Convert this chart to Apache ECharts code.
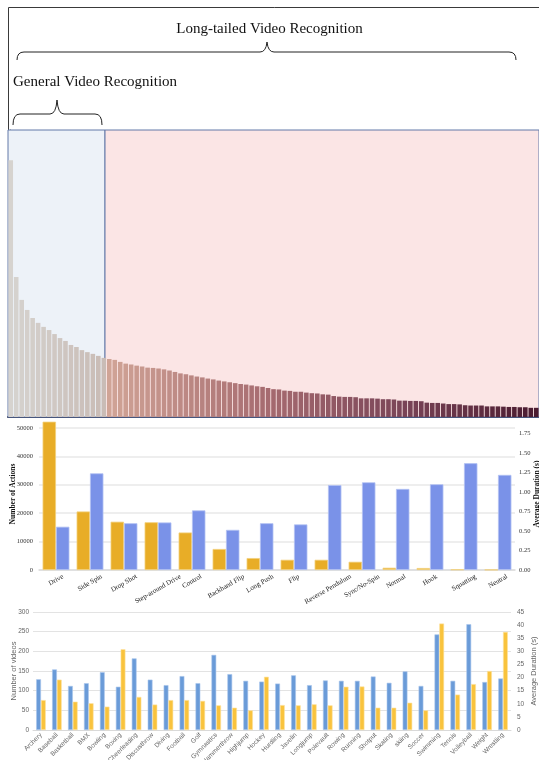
<!DOCTYPE html>
<html><head><meta charset="utf-8">
<script src="https://cdn.jsdelivr.net/npm/echarts@6/dist/echarts.min.js"></script>
<style>html,body{margin:0;padding:0;background:#fff}#c{width:539px;height:760px}</style>
</head><body><div id="c"></div>
<script>
// ---------- data ----------
// long-tailed class distribution (samples per class, sorted)
const distCounts = [895,488,408,373,345,328,314,303,289,275,265,251,244,233,226,220,213,206,
  202,199,192,186,183,179,176,172,171,169,166,162,157,152,149,145,141,138,134,131,127,124,121,118,115,113,110,107,105,101,
  97,96,92,91,88,88,85,83,82,79,78,73,71,70,70,69,65,65,65,64,62,62,61,57,57,56,56,55,50,49,49,47,45,45,44,41,40,40,40,37,37,37,36,35,35,34,34,32,32];
const distHeadEnd = 17.22;   // boundary between general (head) and long-tailed region, in class-index units
const distMax = 1000;

const actionCats = ['Drive','Side Spin','Drop Shot','Step-around Drive','Control','Backhand Flip','Long Push','Flip','Reverse Pendulum','Sync/No-Spin','Normal','Hook','Squatting','Neutral'];
const actionCounts = [52200,20600,17000,16800,13200,7400,4200,3600,3600,2900,800,700,200,100];
const actionDurations = [0.555,1.24,0.60,0.61,0.765,0.515,0.60,0.585,1.09,1.125,1.04,1.10,1.37,1.22];
const actionCountMax = 53500, actionCountStep = 10000;
const actionDurMax = 1.95, actionDurStep = 0.25;

const sportCats = ['Archery','Baseball','Basketball','BMX','Bowling','Boxing','Cheerleading','Discusthrow','Diving','Football','Golf','Gymnastics','Hammerthrow','Highjump','Hockey','Hurdling','Javelin','Longjump','Polevault','Rowing','Running','Shotput','Skating','skiing','Soccer','Swimming','Tennis','Volleyball','Weight','Wrestling'];
const sportVideos = [129,154,112,119,147,110,182,128,114,137,119,191,142,125,123,118,139,114,126,125,125,136,120,149,112,243,125,269,122,131];
const sportDurations = [11.4,19.2,10.8,10.2,8.9,30.8,12.6,9.7,11.4,11.4,11.1,9.4,8.5,7.5,20.3,9.5,9.4,9.8,9.4,16.5,16.6,8.5,8.5,10.4,7.5,40.6,13.5,17.5,22.5,37.4];
const sportVideoMax = 300, sportVideoStep = 50;
const sportDurMax = 45, sportDurStep = 5;

// ---------- helpers ----------
function hex(c){return [parseInt(c.slice(1,3),16),parseInt(c.slice(3,5),16),parseInt(c.slice(5,7),16)];}
function lerp(a,b,t){const A=hex(a),B=hex(b);return 'rgb('+A.map((v,k)=>Math.round(v+(B[k]-v)*t)).join(',')+')';}
const headStops=[[0,'#d6d3cf'],[17,'#c9bcb6']];
const tailStops=[[18,'#d0a496'],[47,'#a66b70'],[71,'#7b4558'],[96,'#4a1b30']];
function stopColor(stops,i){
  for(let k=0;k<stops.length-1;k++){
    const [i0,c0]=stops[k],[i1,c1]=stops[k+1];
    if(i<=i1) return lerp(c0,c1,Math.max(0,(i-i0)/(i1-i0)));
  }
  return stops[stops.length-1][1];
}
function distColor(i){return i<=17?stopColor(headStops,i):stopColor(tailStops,i);}

const measureCtx=document.createElement('canvas').getContext('2d');
function textW(t,font){measureCtx.font=font;return measureCtx.measureText(t).width;}
const serif='"Liberation Serif", "Times New Roman", serif';
const sans='"Liberation Sans", Arial, sans-serif';
const actionLabelFont='7px '+serif;

// curly brace drawn from simple curve/line primitives
function brace(x0,x1,xm,yLine,yEnd,yTip){
  const st={fill:'none',stroke:'#222',lineWidth:1};
  const r=7;
  return [
    {type:'bezierCurve',silent:true,shape:{x1:x0,y1:yEnd,cpx1:x0,cpy1:yLine,x2:x0+r,y2:yLine},style:st},
    {type:'line',silent:true,shape:{x1:x0+r,y1:yLine,x2:xm-r,y2:yLine},style:st},
    {type:'bezierCurve',silent:true,shape:{x1:xm-r,y1:yLine,cpx1:xm-1,cpy1:yLine,x2:xm,y2:yTip},style:st},
    {type:'bezierCurve',silent:true,shape:{x1:xm,y1:yTip,cpx1:xm+1,cpy1:yLine,x2:xm+r,y2:yLine},style:st},
    {type:'line',silent:true,shape:{x1:xm+r,y1:yLine,x2:x1-r,y2:yLine},style:st},
    {type:'bezierCurve',silent:true,shape:{x1:x1-r,y1:yLine,cpx1:x1,cpy1:yLine,x2:x1,y2:yEnd},style:st}
  ];
}

const chart=echarts.init(document.getElementById('c'),null,{renderer:'canvas'});
chart.setOption({
  animation:false,
  backgroundColor:'#fff',
  grid:[
    {left:8,right:0,top:130,height:287,containLabel:false,outerBoundsMode:'none'},
    {left:39,right:24,top:418,height:152,containLabel:false,outerBoundsMode:'none'},
    {left:33,right:28,top:612,bottom:30,containLabel:false,outerBoundsMode:'none'}
  ],
  xAxis:[
    {type:'category',gridIndex:0,data:distCounts.map((v,i)=>String(i+1)),axisLabel:{show:false},axisTick:{show:false},
     axisLine:{lineStyle:{color:'#2c3452',width:2}}},
    {type:'value',gridIndex:0,min:-0.5,max:distCounts.length-0.5,show:false},
    {type:'category',gridIndex:1,data:actionCats,axisLabel:{show:false},axisTick:{show:false},
     axisLine:{lineStyle:{color:'#dcdcdc',width:1.5}}},
    {type:'category',gridIndex:2,data:sportCats,axisTick:{show:false},
     axisLine:{lineStyle:{color:'#d9d9d9'}},
     axisLabel:{rotate:45,interval:0,margin:4,fontSize:6.5,fontFamily:sans,color:'#666'}}
  ],
  yAxis:[
    {type:'value',gridIndex:0,min:0,max:distMax,axisLabel:{show:false},splitLine:{show:false},
     axisLine:{show:true,lineStyle:{color:'#555',width:1}},axisTick:{show:false}},
    {type:'value',gridIndex:1,min:0,max:actionCountMax,interval:actionCountStep,
     name:'Number of Actions',nameLocation:'middle',nameGap:22,nameRotate:90,nameMoveOverlap:false,
     nameTextStyle:{fontFamily:serif,fontWeight:'bold',fontSize:7.5,color:'#111'},
     axisLabel:{fontFamily:serif,fontSize:6.5,color:'#333',margin:6,showMaxLabel:false,formatter:v=>String(v)},
     axisLine:{show:false},axisTick:{show:false},
     splitLine:{showMaxLine:false,lineStyle:{color:'#e8e8e8',width:1.5}}},
    {type:'value',gridIndex:1,position:'right',min:0,max:actionDurMax,interval:actionDurStep,
     name:'Average Duration (s)',nameLocation:'middle',nameGap:18,nameRotate:90,nameMoveOverlap:false,
     nameTextStyle:{fontFamily:serif,fontWeight:'bold',fontSize:7.5,color:'#111'},
     axisLabel:{fontFamily:serif,fontSize:6.5,color:'#333',margin:4,showMaxLabel:false,formatter:v=>v.toFixed(2)},
     axisLine:{show:false},axisTick:{show:false},splitLine:{show:false}},
    {type:'value',gridIndex:2,min:0,max:sportVideoMax,interval:sportVideoStep,
     name:'Number of videos',nameLocation:'middle',nameGap:15,nameRotate:90,nameMoveOverlap:false,
     nameTextStyle:{fontFamily:sans,fontSize:7.5,color:'#666'},
     axisLabel:{fontFamily:sans,fontSize:6.5,color:'#666',margin:4},
     axisLine:{show:false},axisTick:{show:false},
     splitLine:{lineStyle:{color:'#e3e3e3',width:1}}},
    {type:'value',gridIndex:2,position:'right',min:0,max:sportDurMax,interval:sportDurStep,
     name:'Average Duration (s)',nameLocation:'middle',nameGap:19,nameRotate:90,nameMoveOverlap:false,
     nameTextStyle:{fontFamily:sans,fontSize:7.5,color:'#666'},
     axisLabel:{fontFamily:sans,fontSize:6.5,color:'#666',margin:6},
     axisLine:{show:false},axisTick:{show:false},splitLine:{show:false}}
  ],
  series:[
    {type:'line',xAxisIndex:1,yAxisIndex:0,data:[],z:1,silent:true,
     markArea:{silent:true,
       itemStyle:{borderColor:'#6279a8',borderWidth:1},
       data:[
         [{xAxis:-0.5,itemStyle:{color:'#edf2f8',borderColor:'#6279a8',borderWidth:1}},{xAxis:distHeadEnd}],
         [{xAxis:distHeadEnd,itemStyle:{color:'#fbe5e5',borderColor:'#6279a8',borderWidth:1}},{xAxis:distCounts.length-0.5}]
       ]}},
    {type:'bar',xAxisIndex:0,yAxisIndex:0,z:3,barCategoryGap:'16%',
     data:distCounts.map((v,i)=>({value:v,itemStyle:{color:distColor(i)}}))},
    {type:'bar',xAxisIndex:2,yAxisIndex:1,data:actionCounts,barGap:'0%',barCategoryGap:'21%',
     itemStyle:{color:'#e8ad27',borderColor:'#f3d07c',borderWidth:0.8}},
    {type:'bar',xAxisIndex:2,yAxisIndex:2,data:actionDurations,barGap:'0%',barCategoryGap:'21%',
     itemStyle:{color:'#7a92e8',borderColor:'#b3c1f3',borderWidth:0.8}},
    {type:'custom',xAxisIndex:2,yAxisIndex:1,silent:true,
     data:actionCats.map((c,i)=>[i,0]),
     renderItem:function(params,api){
       const i=api.value(0);
       const p=api.coord([i,0]);
       const text=actionCats[i];
       const th=Math.PI/6, h=7;
       const L=textW(text,actionLabelFont);
       const cy=p[1]+3+(L*Math.sin(th)+h*Math.cos(th))/2;
       return {type:'text',x:p[0],y:cy,rotation:th,
         style:{x:0,y:0,text:text,font:actionLabelFont,fill:'#222',
           align:'center',verticalAlign:'middle',textAlign:'center',textVerticalAlign:'middle'}};
     }},
    {type:'bar',xAxisIndex:3,yAxisIndex:3,data:sportVideos,barGap:'0%',barCategoryGap:'40%',
     itemStyle:{color:'#6a9bd8',borderColor:'#a9c6ec',borderWidth:0.6}},
    {type:'bar',xAxisIndex:3,yAxisIndex:4,data:sportDurations,barGap:'0%',barCategoryGap:'40%',
     itemStyle:{color:'#f9c33d',borderColor:'#fde3a0',borderWidth:0.6}}
  ],
  graphic:[
    {type:'rect',silent:true,shape:{x:8.5,y:7.5,width:540,height:123},style:{fill:'none',stroke:'#3a3a3a',lineWidth:1}},
    {type:'text',silent:true,x:269.5,y:37,style:{text:'Long-tailed Video Recognition',font:'15px '+serif,fill:'#111',align:'center',verticalAlign:'bottom'}},
    {type:'text',silent:true,x:13,y:90,style:{text:'General Video Recognition',font:'15px '+serif,fill:'#111',align:'left',verticalAlign:'bottom'}}
  ].concat(brace(17,516,267,52,60,42)).concat(brace(13,102,57,114,125,100))
});
</script>
</body></html>
